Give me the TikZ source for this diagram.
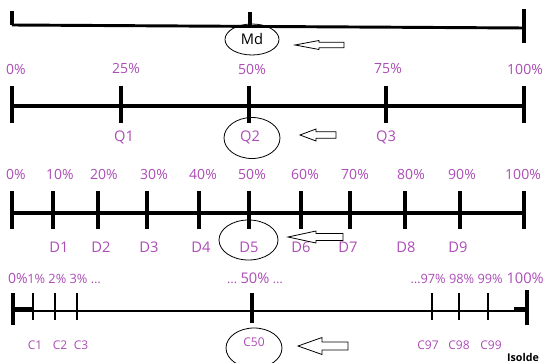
\documentclass[tikz,border=0pt]{standalone}
\usepackage{fontspec}
\setmainfont{Open Sans}
\usetikzlibrary{shapes.geometric}
\definecolor{pctpurple}{RGB}{172,76,182}

% hollow left-pointing arrow: tip x, y, tail x, head length, head half-height, body half-height
\newcommand\hollowleft[6]{%
  \draw[arrowline] (#1,#2) -- ({#1+#4},{#2-#5}) -- ({#1+#4},{#2-#6}) -- (#3,{#2-#6})
    -- (#3,{#2+#6}) -- ({#1+#4},{#2+#6}) -- ({#1+#4},{#2+#5}) -- cycle;}

\begin{document}
\begin{tikzpicture}[x=0.75pt,y=-0.75pt,
  big/.style={text=pctpurple,font=\fontsize{10.5}{12}\selectfont,inner sep=0pt},
  small/.style={text=pctpurple,font=\fontsize{9.6}{11}\selectfont,inner sep=0pt},
  qlbl/.style={text=pctpurple,font=\fontsize{11}{12}\selectfont,inner sep=0pt},
  clbl/.style={text=pctpurple,font=\fontsize{9}{10}\selectfont,inner sep=0pt},
  heavy/.style={line width=3pt},
  light/.style={line width=1.3pt},
  ring/.style={draw,ellipse,line width=0.6pt,inner sep=0pt},
  arrowline/.style={line width=0.6pt,line join=miter}]
\useasboundingbox (0,0) rectangle (545,363);

% ---------- median ----------
\coordinate (m0) at (12,25);   \coordinate (m0t) at (12,11);
\coordinate (m50) at (250,26); \coordinate (m50t) at (250,12);
\coordinate (m100) at (524,28); \coordinate (m100t) at (524,9); \coordinate (m100b) at (524,43);
\draw[line width=2.2pt] (m0) -- (m100);
\draw[line width=2.4pt] (m0t) -- (m0);
\draw[line width=2.4pt] (m50t) -- (m50);
\draw[heavy] (m100t) -- (m100b);
\node[ring,minimum width=40.5pt,minimum height=23.25pt,font=\fontsize{11}{12}\selectfont] (md) at (252,39.5) {Md};
\hollowleft{295}{45}{344}{24}{4.5}{2.8}

% ---------- quartiles ----------
\foreach \x/\p/\n in {12/0/q0,121/25/q1,249/50/q2,386/75/q3,524/100/q4}{
  \coordinate (\n t) at (\x,86); \coordinate (\n b) at (\x,123);
  \draw[heavy] (\n t) -- (\n b);
}
\draw[heavy] (12,106) -- (524,106);
\node[big] (p0)   at (16,69)  {0\%};
\node[big] (p25)  at (126,69) {25\%};
\node[big] (p50)  at (252,69) {50\%};
\node[big] (p75)  at (388,69) {75\%};
\node[big] (p100) at (525,69) {100\%};
\node[qlbl] (Q1) at (124,137) {Q1};
\node[qlbl] (Q3) at (386,137) {Q3};
\node[ring,minimum width=42pt,minimum height=30.75pt] (q2ring) at (252,138) {};
\node[qlbl] (Q2) at (250,137) {Q2};
\hollowleft{300}{135}{336}{16}{6}{3.3}

% ---------- deciles ----------
\foreach \x/\n in {12/d0,53/d1,98/d2,147/d3,199/d4,249/d5,301/d6,350/d7,405/d8,460/d9,524/d10}{
  \coordinate (\n t) at (\x,191); \coordinate (\n b) at (\x,229);
  \draw[heavy] (\n t) -- (\n b);
}
\draw[heavy] (12,213) -- (524,213);
\foreach \x/\p in {16/0,60/10,104/20,154/30,203/40,252/50,305/60,355/70,411/80,462/90,523/100}{
  \node[big] (dp\p) at (\x,174) {\p\%};
}
\foreach \x/\k in {59/1,101/2,149/3,201/4,249/5,301/6,348/7,406/8,458/9}{
  \node[qlbl] (D\k) at (\x,247) {D\k};
}
\node[ring,minimum width=44.25pt,minimum height=30pt] (d5ring) at (248.5,240) {};
\hollowleft{288}{237}{343}{28}{6}{3.5}

% ---------- percentiles ----------
\coordinate (c0) at (12,311); \coordinate (c100) at (527,311);
\draw[line width=1.8pt] (c0) -- (c100);
\draw[heavy] (12,308.5) -- (33,308.5);
\draw[heavy] (514,309) -- (527,309);
\draw[heavy] (13,293) -- (13,325);
\draw[heavy] (252,293) -- (252,323);
\draw[heavy] (527,290) -- (527,325);
\foreach \x in {33,55,77,432,459,488}{
  \draw[light] (\x,293) -- (\x,320);
}
\node[big] (cp0) at (18,278) {0\%};
\node[small,anchor=west] (cpa) at (27,279) {1\% 2\% 3\% …};
\node[inner sep=0pt] (cp50) at (255,278) {\textcolor{pctpurple}{\fontsize{9.6}{11}\selectfont … }\textcolor{pctpurple}{\fontsize{11}{12}\selectfont 50\%}\textcolor{pctpurple}{\fontsize{9.6}{11}\selectfont\ …}};
\node[small,anchor=east] (cpb) at (503,279) {…97\% 98\% 99\%};
\node[big,anchor=east,font=\fontsize{11}{12}\selectfont] (cp100) at (544,278) {100\%};
\foreach \x/\k in {35/1,60/2,81/3,428/97,459/98,491/99}{
  \node[clbl] (C\k) at (\x,345) {C\k};
}
\node[ring,minimum width=42pt,minimum height=30pt] (c50ring) at (254,348) {};
\node[clbl] (C50) at (254,342) {C50};
\hollowleft{298}{346}{348}{24}{8.5}{4}

\node[font=\bfseries\fontsize{8}{9}\selectfont,inner sep=0pt] (sig) at (523,357) {Isolde};
\end{tikzpicture}
\end{document}
